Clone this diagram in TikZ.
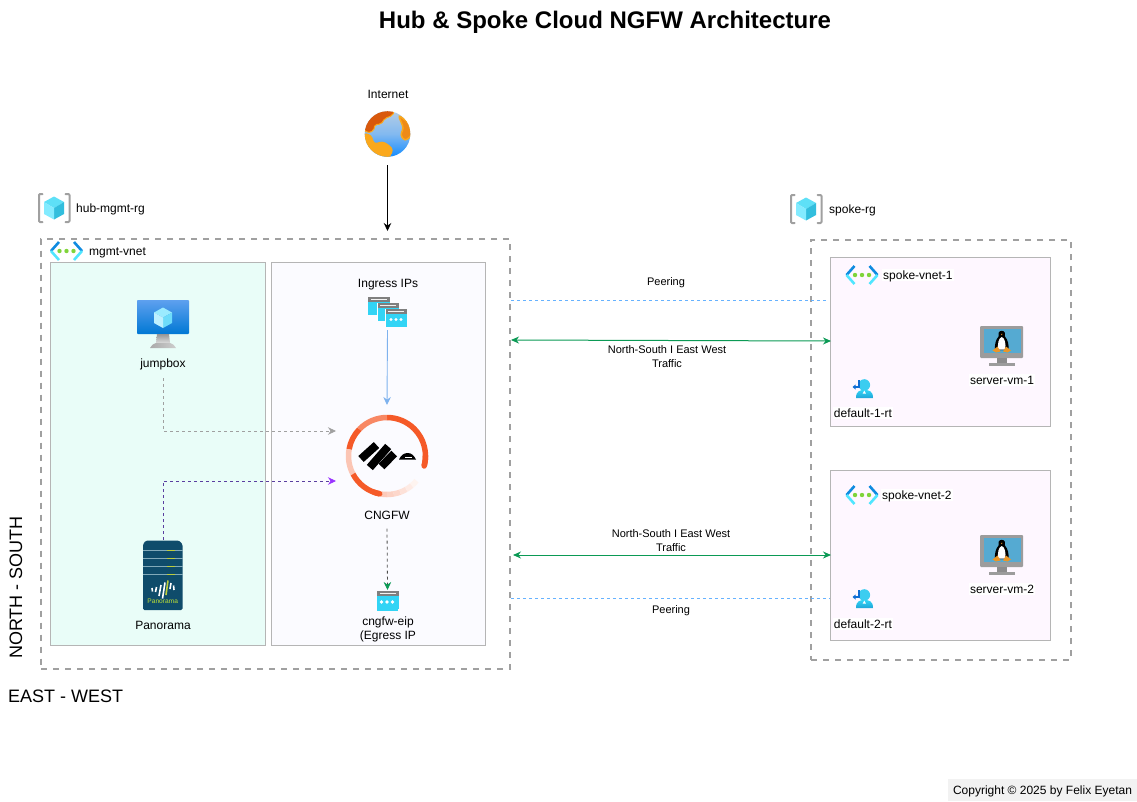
\documentclass[tikz,border=0pt]{standalone}
\usepackage{fontspec}
\setmainfont{Liberation Sans}
\usetikzlibrary{arrows.meta,calc}
\definecolor{dashgray}{HTML}{A0A0A0}
\definecolor{boxline}{HTML}{B5B5B5}
\definecolor{mint}{HTML}{E9FDF8}
\definecolor{lav}{HTML}{FBFBFF}
\definecolor{pinkish}{HTML}{FEF7FF}
\definecolor{peer}{HTML}{66B2FF}
\definecolor{tgreen}{HTML}{0B9A55}
\definecolor{ingress}{HTML}{7EB2EE}
\definecolor{purp}{HTML}{9933FF}
\definecolor{purpline}{HTML}{5A3FA0}
\definecolor{orng}{HTML}{F55A28}
\definecolor{cyanb}{HTML}{32D4F5}
\definecolor{wingray}{HTML}{7F7F7F}
\definecolor{pano}{HTML}{0F4C6B}
\definecolor{monframe}{HTML}{9C9C9C}
\definecolor{monstand}{HTML}{8C8C8C}
\definecolor{tuxfoot}{HTML}{EB9628}
\definecolor{globeor}{HTML}{FAA81C}
\definecolor{globedk}{HTML}{D9590C}
\definecolor{globemid}{HTML}{EE8A18}
\tikzset{
  x=1pt,y=-1pt,
  lbl/.style={inner sep=0pt,font=\fontsize{12}{14}\selectfont,text height=8.6pt,text depth=.4pt},
  small/.style={inner sep=0pt,font=\fontsize{11}{14}\selectfont,align=center},
  lblw/.style={lbl,fill=white,inner xsep=1pt,inner ysep=1.2pt},
  hole/.style={inner sep=0pt,draw=none,outer sep=0pt},
  outer/.style={draw=dashgray,line width=2pt,dash pattern=on 6pt off 6pt},
  panel/.style={draw=boxline,line width=.8pt},
  arrowtip/.style={-{Stealth[length=8pt,width=7.5pt]}},
  conn/.style={line width=.8pt,dash pattern=on 3pt off 3pt},
  rgicon/.pic={
    \draw[dashgray,line width=2pt,line join=round,line cap=round] (-11.5,-14) -- (-14,-14) -- (-15,-13) -- (-15,13) -- (-14,14) -- (-11.5,14);
    \draw[dashgray,line width=2pt,line join=round,line cap=round] (11.5,-14) -- (14.5,-14) -- (15.5,-13) -- (15.5,13) -- (14.5,14) -- (11.5,14);
    \fill[color={rgb,255:red,94;green,224;blue,247}] (0,-11.5) -- (10,-6) -- (0,0) -- (-10,-6) -- cycle;
    \fill[color={rgb,255:red,50;green,190;blue,221}] (10,-6) -- (10,6) -- (0,11.5) -- (0,0) -- cycle;
    \fill[color={rgb,255:red,131;green,235;blue,255}] (-10,-6) -- (0,0) -- (0,11.5) -- (-10,6) -- cycle;
  },
  vnet/.pic={
    \draw[color={rgb,255:red,15;green,139;blue,224},line width=2.6pt] (-7.5,-9) -- (-15.5,0);
    \draw[color={rgb,255:red,80;green,230;blue,255},line width=2.6pt] (-15.5,0) -- (-7.5,9);
    \draw[color={rgb,255:red,15;green,139;blue,224},line width=2.6pt] (7.5,-9) -- (15.5,0);
    \draw[color={rgb,255:red,80;green,230;blue,255},line width=2.6pt] (15.5,0) -- (7.5,9);
    \foreach \d in {-7,0,7} \fill[color={rgb,255:red,127;green,212;blue,58}] (\d,0) circle[radius=2.2pt];
  },
  winicon/.pic={
    \fill[cyanb] (0,0) rectangle (22,18);
    \fill[wingray] (0,0) rectangle (22,5);
    \fill[white!90!gray] (3,1.6) rectangle (19,3.4);
  },
  tux/.pic={
    \fill[monframe,rounded corners=1pt] (-1,-1) rectangle (42,31);
    \fill[color={rgb,255:red,85;green,170;blue,210}] (2.5,2) rectangle (39.5,26);
    \fill[monstand] (16,31) rectangle (26,36);
    \fill[monframe] (8,36) rectangle (34,39);
    \fill[black] (20.7,3.8) .. controls (24,3.8) and (24.5,7) .. (24,9.5) .. controls (27,13) and (28,18) .. (27.5,23) -- (14,23) .. controls (13.5,18) and (14.5,13) .. (17.5,9.5) .. controls (17,7) and (17.5,3.8) .. (20.7,3.8) -- cycle;
    \fill[white] (20.7,10) .. controls (24,11) and (25,17) .. (24.3,22.5) -- (17.1,22.5) .. controls (16.4,17) and (17.5,11) .. (20.7,10) -- cycle;
    \fill[tuxfoot] (20,6.8) -- (21.5,6.8) -- (20.7,8.2) -- cycle;
    \fill[tuxfoot] (11.5,23.5) -- (16.5,19.5) -- (19.5,24.5) -- (15,25.5) -- cycle;
    \fill[tuxfoot] (30,23.5) -- (25,19.5) -- (22,24.5) -- (26.5,25.5) -- cycle;
  },
  rticon/.pic={
    \fill[color={rgb,255:red,60;green,205;blue,240}] (2.3,-5) circle[radius=5.8pt];
    \shade[top color={rgb,255:red,50;green,212;blue,245},bottom color={rgb,255:red,30;green,165;blue,215}] (-6,8) .. controls (-6,1) and (-2,0) .. (2.3,0) .. controls (7,0) and (11,1) .. (11,8) -- cycle;
    \fill[white] (2.3,0.5) -- (0.7,3.5) -- (3.9,3.5) -- cycle;
    \draw[color={rgb,255:red,15;green,110;blue,212},line width=1.3pt] (-3,-10) -- (-3,-3) -- (-7,-3);
    \fill[color={rgb,255:red,15;green,110;blue,212}] (-9.5,-3) -- (-6.5,-5.5) -- (-6.5,-0.5) -- cycle;
  }
}
\begin{document}
\begin{tikzpicture}
\useasboundingbox (0,0) rectangle (1137,801);
\fill[white] (0,0) rectangle (1137,801);

% containers
\node[hole,outer,minimum width=469pt,minimum height=430pt,anchor=north west] (mgmt) at (41,238.5) {};
\node[hole,outer,minimum width=260pt,minimum height=420pt,anchor=north west] (spoke) at (811,240) {};
\node[hole,panel,fill=mint,minimum width=215.5pt,minimum height=383pt,anchor=north west] (left) at (50,262) {};
\node[hole,panel,fill=lav,minimum width=214pt,minimum height=383pt,anchor=north west] (right) at (271,262) {};
\node[hole,panel,fill=pinkish,minimum width=220pt,minimum height=169pt,anchor=north west] (sv1) at (830,257) {};
\node[hole,panel,fill=pinkish,minimum width=220pt,minimum height=170pt,anchor=north west] (sv2) at (830,470) {};
\node[hole,fill=black!5,minimum width=189pt,minimum height=22pt,anchor=north west] (copybg) at (948,779) {};

% titles and labels
\node[inner sep=0pt,font=\fontsize{24}{28}\selectfont\bfseries] (title) at (605,22) {Hub \& Spoke Cloud NGFW Architecture};
\node[lbl] (internetl) at (388,94) {Internet};
\node[lbl,anchor=west] (hubl) at (76,208) {hub-mgmt-rg};
\node[lbl,anchor=west] (mgmtl) at (89,251) {mgmt-vnet};
\node[lbl] (jumpl) at (163,363) {jumpbox};
\node[lbl] (panl) at (163,625) {Panorama};
\node[lbl] (ingl) at (388,283) {Ingress IPs};
\node[lbl] (cngfwl) at (387,515) {CNGFW};
\node[inner sep=0pt,align=center,font=\fontsize{12}{14}\selectfont] (eipl) at (388,629) {cngfw-eip\\(Egress IP};
\node[small] (peer1l) at (666,282.5) {Peering};
\node[small] (tr1l) at (667,357) {North-South I East West\\Traffic};
\node[small] (tr2l) at (671,541) {North-South I East West\\Traffic};
\node[small] (peer2l) at (671,611) {Peering};
\node[lbl,anchor=west] (spokel) at (829,209) {spoke-rg};
\node[lblw,anchor=west] (sv1l) at (882,275) {spoke-vnet-1};
\node[lblw,anchor=west] (sv2l) at (881,495) {spoke-vnet-2};
\node[lblw] (vm1l) at (1002,380) {server-vm-1};
\node[lblw] (vm2l) at (1002,589) {server-vm-2};
\node[lblw] (rt1l) at (863,413) {default-1-rt};
\node[lblw] (rt2l) at (863,624) {default-2-rt};
\node[inner sep=0pt,font=\fontsize{18}{20}\selectfont,rotate=90] (nsl) at (16,587.5) {NORTH - SOUTH};
\node[inner sep=0pt,font=\fontsize{18}{20}\selectfont,anchor=west] (ewl) at (8,696) {EAST - WEST};
\node[inner sep=0pt,font=\fontsize{12}{14}\selectfont] (copyl) at (1042.5,791) {Copyright © 2025 by Felix Eyetan};

% anchors of the icons
\node[hole,minimum width=46pt,minimum height=62pt] (internet) at (387.5,134) {};
\node[hole,minimum width=52pt,minimum height=78pt] (jump) at (163,339) {};
\node[hole,minimum width=40pt,minimum height=70pt] (panorama) at (163,575) {};
\node[hole,minimum width=40pt,minimum height=34pt] (ingress) at (387.5,313) {};
\node[hole,minimum width=102pt,minimum height=102pt] (cngfw) at (387,456) {};
\node[hole,minimum width=21pt,minimum height=21pt] (eip) at (387.5,600.5) {};
\coordinate (intend) at (387.5,231);
\coordinate (p1a) at (511,300.6);
\coordinate (p1b) at (827,300.6);
\coordinate (t1a) at (511,340);
\coordinate (t1b) at (831,341);
\coordinate (t2a) at (513,555);
\coordinate (t2b) at (831,555);
\coordinate (p2a) at (511,598);
\coordinate (p2b) at (830,598);

% connectors
\draw[arrowtip,black,line width=.9pt] (internet.south) -- (intend);
\draw[arrowtip,ingress,line width=.9pt] (ingress.south) -- (cngfw.north);
\draw[arrowtip,dashgray,conn] (jump.south) |- ([yshift=25pt]cngfw.west);
\draw[-{Stealth[length=8pt,width=7.5pt,color=purp]},purpline,conn] (panorama.north) |- ([yshift=-25pt]cngfw.west);
\draw[-{Stealth[length=8pt,width=7.5pt,color=tgreen]},black!70,conn] ([yshift=-9pt]cngfwl.south) -- (eip.north);
\draw[peer,conn] (p1a) -- (p1b);
\draw[peer,conn] (p2a) -- (p2b);
\draw[{Stealth[length=8pt,width=7pt]}-{Stealth[length=8pt,width=7pt]},tgreen,line width=1pt] (t1a) -- (t1b);
\draw[{Stealth[length=8pt,width=7pt]}-{Stealth[length=8pt,width=7pt]},tgreen,line width=1pt] (t2a) -- (t2b);

% resource group and vnet icons
\pic at (54,208) {rgicon};
\pic at (806,209) {rgicon};
\pic at (66.5,251) {vnet};
\pic at (862,275) {vnet};
\pic at (862,495) {vnet};

% globe
\begin{scope}
  \clip (387.5,134) circle[radius=22.8pt];
  \shade[top color={rgb,255:red,180;green,205;blue,230},bottom color={rgb,255:red,20;green,140;blue,255},middle color={rgb,255:red,130;green,185;blue,240}] (364,111) rectangle (411,157);
  \begin{scope}[x=.3333pt,y=-.3333pt,shift={(1065,255)}]
    \filldraw[fill=globedk,draw=globeor,line width=1pt,rounded corners=2pt] (25,130) -- (40,100) -- (65,80) -- (95,72) -- (118,80) -- (112,92) -- (90,100) -- (78,118) -- (60,118) -- (56,138) -- (36,144) -- cycle;
    \fill[globeor,rounded corners=3pt] (26,143) -- (50,150) -- (58,176) -- (82,168) -- (104,180) -- (116,195) -- (100,225) -- (62,222) -- (44,200) -- (26,170) -- cycle;
    \filldraw[fill=globemid,draw=globeor,line width=1.5pt,rounded corners=3pt] (130,90) -- (160,112) -- (172,150) -- (150,168) -- (136,150) -- (146,130) -- cycle;
  \end{scope}
\end{scope}

% jumpbox
\shade[top color={rgb,255:red,94;green,160;blue,239},bottom color={rgb,255:red,0;green,120;blue,212},rounded corners=.8pt] (137,300) rectangle (189,334);
\shade[top color={rgb,255:red,150;green,150;blue,150},bottom color={rgb,255:red,220;green,220;blue,220}] (157,334) -- (169,334) -- (170,343) -- (156,343) -- cycle;
\shade[left color={rgb,255:red,170;green,170;blue,170},right color={rgb,255:red,205;green,205;blue,205}] (156,343) -- (170,343) .. controls (173,344) .. (176,348) -- (150,348) .. controls (153,344) .. (156,343) -- cycle;
\fill[color={rgb,255:red,155;green,235;blue,255}] (163,307.5) -- (172,312.5) -- (163,317.5) -- (154,312.5) -- cycle;
\fill[color={rgb,255:red,110;green,220;blue,250}] (172,312.5) -- (172,323) -- (163,328) -- (163,317.5) -- cycle;
\fill[color={rgb,255:red,190;green,240;blue,255}] (154,312.5) -- (163,317.5) -- (163,328) -- (154,323) -- cycle;

% ingress windows
\pic at (368,297) {winicon};
\pic at (377,303) {winicon};
\pic at (385,309) {winicon};
\foreach \d in {391,396,401} \fill[white] (\d,319.5) circle[radius=1.6pt];
\draw[white,line width=.6pt] (377,303) -- (377,321) (385,309) -- (385,327);

% firewall ring
\foreach \a/\b/\p in {-15/90/100,90/136/72,136/170/100,170/208/35,208/259/100,259/270/32,270/280/28,280/290/24,290/300/18,300/310/12,310/320/7} {
  \draw[orng!\p!white,line width=5.5pt] (387,456) ++(\a:38.5pt) arc[start angle=\a,end angle=\b,radius=38.5pt];
}
\draw[orng,line width=5.5pt,line cap=round] (387,456) ++(-15:38.5pt) arc[start angle=-15,end angle=0,radius=38.5pt];
\draw[orng,line width=5.5pt,line cap=round] (387,456) ++(250:38.5pt) arc[start angle=250,end angle=259,radius=38.5pt];
\begin{scope}[line width=8pt,black]
  \draw (361,459) -- (376.5,445);
  \draw (369.8,467.5) -- (388.2,446.5);
  \draw (381.5,466.5) -- (394.2,453.5);
\end{scope}
\fill[black] (399,459.5) .. controls (401,455) and (404,453) .. (408,453) .. controls (412,453) and (414,456) .. (416,459.5) -- cycle;
\fill[white] (405,456.5) rectangle (412,458);

% panorama
\fill[pano,rounded corners=1.5pt] (146,540.5) -- (179,540.5) -- (182.5,544) -- (182.5,610) -- (143,610) -- (143,544) -- cycle;
\foreach \y in {550.7,558.3,566.7,574.3} {
  \draw[color={rgb,255:red,130;green,170;blue,185},line width=1.2pt] (143,\y) -- (182.5,\y);
  \draw[color={rgb,255:red,190;green,205;blue,60},line width=1.2pt] (166.5,\y) -- (175,\y);
}
\begin{scope}[white,line width=1.6pt]
  \draw (152,588) -- (152.5,591.5);
  \draw (155.5,592) -- (156.5,587);
  \draw (159,596) -- (161,585);
  \draw (162.5,598.5) -- (165,582.5);
  \draw[color={rgb,255:red,190;green,205;blue,60}] (166,595) -- (168,580.5);
  \draw (170,589) -- (171,583);
  \draw (174,590) -- (173.5,585.5);
\end{scope}
\node[inner sep=0pt,font=\fontsize{6.6}{8}\selectfont,text=white!20!yellow!75!green] (panlogo) at (162.7,601.7) {Panorama};

% egress ip
\pic at (376.5,591) {winicon};
\fill[cyanb] (376.5,609) rectangle (397.5,611);
\foreach \d in {381.5,387,392.5} \fill[white] (\d,602) circle[radius=1.8pt];

% servers
\pic at (981,327) {tux};
\pic at (981,536) {tux};

% route tables
\pic at (862,390) {rticon};
\pic at (862,600) {rticon};
\end{tikzpicture}
\end{document}
